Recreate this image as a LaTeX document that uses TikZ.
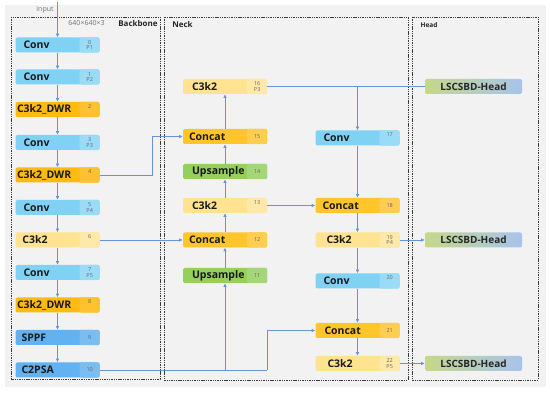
\documentclass[tikz,border=0pt]{standalone}
\usepackage{fontspec}
\setmainfont{Open Sans}
\usetikzlibrary{arrows.meta}
\definecolor{bg}{HTML}{F2F2F2}
\definecolor{convc}{HTML}{80D2F5}
\definecolor{convi}{HTML}{9ADCF7}
\definecolor{dwrc}{HTML}{FDBA12}
\definecolor{dwri}{HTML}{FFC22E}
\definecolor{c3c}{HTML}{FFE391}
\definecolor{c3i}{HTML}{FFE9A8}
\definecolor{catc}{HTML}{FFC52B}
\definecolor{cati}{HTML}{FFCE50}
\definecolor{upc}{HTML}{95CF5E}
\definecolor{upi}{HTML}{A5D677}
\definecolor{spc}{HTML}{62B1F0}
\definecolor{spi}{HTML}{7ABDF2}
\definecolor{hdl}{HTML}{C5D88A}
\definecolor{hdr}{HTML}{A8C3EC}
\definecolor{ln}{HTML}{6A92D8}
\definecolor{frm}{HTML}{3A3A3A}
\tikzset{
 blk/.style={minimum width=84pt,minimum height=15pt,inner sep=0pt,rounded corners=2pt},
 lbl/.style={font=\bfseries\fontsize{10.5}{11}\selectfont,anchor=west,inner sep=0pt,text=black!90},
 idx/.style={font=\fontsize{5.5}{5.5}\selectfont,text=black!60,align=center,inner sep=0pt},
 hd/.style={minimum width=97pt,minimum height=15pt,inner sep=0pt,rounded corners=2pt,left color=hdl,right color=hdr,font=\bfseries\fontsize{10}{11}\selectfont,text=black!85},
 con/.style={draw=ln,line width=0.6pt},
 arr/.style={con,-{Latex[length=3.6pt,width=3.4pt]}},
 dframe/.style={draw=frm,line width=0.7pt,dash pattern=on 1.4pt off 0.9pt},
 note/.style={font=\fontsize{7}{8}\selectfont,text=black!55,inner sep=0pt},
 ttl/.style={font=\bfseries\fontsize{8}{9}\selectfont,text=black!85,inner sep=0pt},
}
\newcommand\blk[9]{%
 \node[blk,fill=#4] (#1) at (#2,#3) {};
 \fill[#5,rounded corners=2pt] ([xshift=-20pt]#1.north east) rectangle (#1.south east);
 \node[lbl] (#1l) at ([xshift=#8pt]#1.west) {#6};
 \node[idx] (#1i) at ([xshift=-10pt,yshift=#9pt]#1.center -| #1.east) {#7};
}
\begin{document}
\begin{tikzpicture}[x=1pt,y=-1pt]
\useasboundingbox (0,0) rectangle (550,393);
\fill[bg] (5,5) rectangle (546,387);
\draw[dframe] (11,17) rectangle (160,379);
\draw[dframe] (164,17) rectangle (408,380);
\draw[dframe] (412,17) rectangle (538,380);
\node[note] (inp) at (45,10) {input};
\node[note] (dim) at (86.5,23) {640×640×3};
\node[ttl] (bbt) at (138,24) {Backbone};
\node[ttl] (nkt) at (182.5,25) {Neck};
\node[ttl,font=\bfseries\fontsize{6.5}{8}\selectfont] (hdt) at (429,25) {Head};
% backbone
\blk{n0}{57.5}{45}{convc}{convi}{Conv}{0\\P1}{8}{0}
\blk{n1}{57.5}{77}{convc}{convi}{Conv}{1\\P2}{8}{0}
\blk{n2}{57.5}{109.5}{dwrc}{dwri}{C3k2\_DWR}{2}{1.5}{3}
\blk{n3}{57.5}{142.5}{convc}{convi}{Conv}{3\\P3}{8}{0}
\blk{n4}{57.5}{175}{dwrc}{dwri}{C3k2\_DWR}{4}{1.5}{3}
\blk{n5}{57.5}{207.5}{convc}{convi}{Conv}{5\\P4}{8}{0}
\blk{n6}{57.5}{240}{c3c}{c3i}{C3k2}{6}{7}{3}
\blk{n7}{57.5}{272.5}{convc}{convi}{Conv}{7\\P5}{8}{0}
\blk{n8}{57.5}{305}{dwrc}{dwri}{C3k2\_DWR}{8}{1.5}{3}
\blk{n9}{57.5}{337.5}{spc}{spi}{SPPF}{9}{6}{0}
\blk{n10}{57.5}{370}{spc}{spi}{C2PSA}{10}{6}{0}
% neck
\blk{n16}{225}{86.5}{c3c}{c3i}{C3k2}{16\\P3}{9}{0}
\blk{n15}{225}{136.5}{catc}{cati}{Concat}{15}{6}{0}
\blk{n14}{225}{171.5}{upc}{upi}{Upsample}{14}{9}{0}
\blk{n13}{225}{205.5}{c3c}{c3i}{C3k2}{13}{9}{3}
\blk{n12}{225}{240}{catc}{cati}{Concat}{12}{6}{0}
\blk{n11}{225}{275.5}{upc}{upi}{Upsample}{11}{9}{0}
\blk{n17}{357.5}{138}{convc}{convi}{Conv}{17}{8}{3}
\blk{n18}{357.5}{205.5}{catc}{cati}{Concat}{18}{7}{0}
\blk{n19}{357.5}{240}{c3c}{c3i}{C3k2}{19\\P4}{11}{0}
\blk{n20}{357.5}{281}{convc}{convi}{Conv}{20}{8}{3}
\blk{n21}{357.5}{330.5}{catc}{cati}{Concat}{21}{9}{0}
\blk{n22}{357.5}{363.5}{c3c}{c3i}{C3k2}{22\\P5}{12}{0}
% head
\node[hd] (h1) at (473.5,86.5) {LSCSBD-Head};
\node[hd] (h2) at (473.5,240) {LSCSBD-Head};
\node[hd] (h3) at (473.5,363.5) {LSCSBD-Head};
% connectors
\coordinate (in) at (57.5,2);
\draw[arr] (in) -- (n0);
\foreach \a/\b in {n0/n1,n1/n2,n2/n3,n3/n4,n4/n5,n5/n6,n6/n7,n7/n8,n8/n9,n9/n10,
  n11/n12,n12/n13,n13/n14,n14/n15,n15/n16,
  n17/n18,n18/n19,n19/n20,n20/n21,n21/n22,
  n6/n12,n13/n18,n19/h2,n22/h3}
  \draw[arr] (\a) -- (\b);
\coordinate (k4) at (152,175);
\draw[arr] (n4.east) -- (k4) |- (n15.west);
\coordinate (k10a) at (225,370);
\coordinate (k10b) at (267,370);
\draw[con] (n10.east) -- (k10b);
\draw[arr] (k10a) -- (n11);
\draw[arr] (k10b) |- (n21.west);
\draw[con] (n16.east) -- (h1.west);
\coordinate (k16) at (357.5,86.5);
\draw[arr] (k16) -- (n17);
\end{tikzpicture}
\end{document}
